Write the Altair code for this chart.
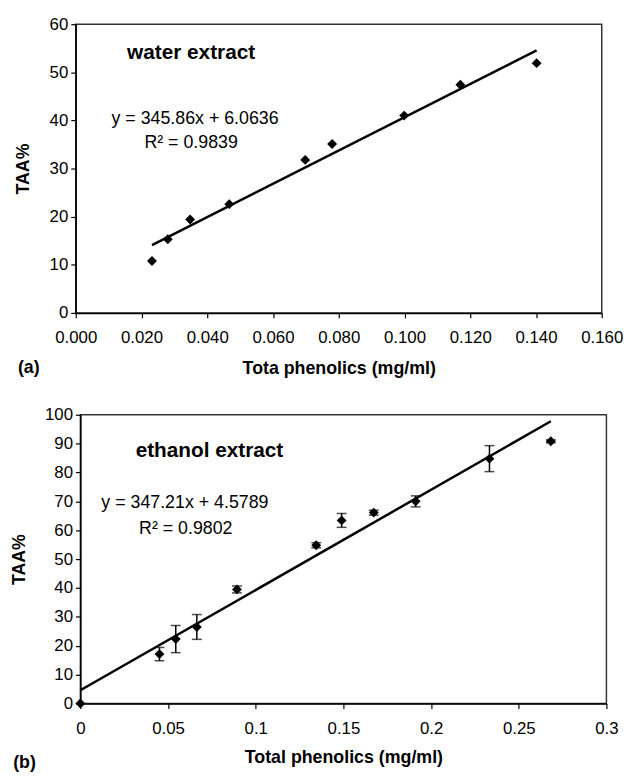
import altair as alt
import pandas as pd
import numpy as np

FONT = "Liberation Sans, Arial, Helvetica, sans-serif"

# ---------- (a) water extract ----------
water_x = [0.0232, 0.0280, 0.0348, 0.0467, 0.0698, 0.0780, 0.0999, 0.1170, 0.1402]
water_y = [10.8, 15.3, 19.4, 22.6, 31.8, 35.1, 41.0, 47.4, 51.9]
water_slope, water_icpt = 345.86, 6.0636
water_fit_x = [0.0232, 0.1402]
water_xticks = [0.0, 0.02, 0.04, 0.06, 0.08, 0.10, 0.12, 0.14, 0.16]
water_yticks = [0, 10, 20, 30, 40, 50, 60]
water_notes = ["water extract", "y = 345.86x + 6.0636", "R\u00b2 = 0.9839"]
water_note_x = [0.0351, 0.0363, 0.0351]
water_note_y = [52.7, 39.2, 34.35]

# ---------- (b) ethanol extract ----------
eth_x = [0.0, 0.0451, 0.0544, 0.0664, 0.0893, 0.1345, 0.1490, 0.1673, 0.1912, 0.2333, 0.2683]
eth_y = [0.0, 17.1, 22.3, 26.5, 39.5, 54.8, 63.4, 66.1, 70.0, 84.8, 90.8]
eth_err = [0.0, 2.3, 4.7, 4.3, 1.2, 0.9, 2.4, 0.85, 1.9, 4.5, 0.5]
eth_slope, eth_icpt = 347.21, 4.5789
eth_fit_x = [0.0, 0.2683]
eth_xticks = [0.0, 0.05, 0.10, 0.15, 0.20, 0.25, 0.30]
eth_yticks = [0, 10, 20, 30, 40, 50, 60, 70, 80, 90, 100]
eth_notes = ["ethanol extract", "y = 347.21x + 4.5789", "R\u00b2 = 0.9802"]
eth_note_x = [0.0736, 0.0596, 0.0601]
eth_note_y = [85.4, 67.8, 58.8]

BLACK = "#000000"


def panel(xs, ys, errs, fit_x, slope, icpt, xticks, yticks, xfmt, xtitle,
          notes, nx, ny, tag, tag_x, tag_y, w, h, x_tp):
    xdom = [xticks[0], xticks[-1]]
    ydom = [yticks[0], yticks[-1]]
    xsc = alt.Scale(domain=xdom, nice=False, zero=False)
    ysc = alt.Scale(domain=ydom, nice=False, zero=False)
    xax = alt.Axis(values=xticks, format=xfmt, title=xtitle, labelFlush=False,
                   labelPadding=12, titlePadding=x_tp, grid=False)
    yax = alt.Axis(values=yticks, title="TAA%", grid=False, titlePadding=16.5,
                   labelPadding=3)

    pts = pd.DataFrame({"x": xs, "y": ys})
    X = alt.X("x:Q", scale=xsc, axis=xax)
    Y = alt.Y("y:Q", scale=ysc, axis=yax)

    fx = np.array(fit_x)
    fit = pd.DataFrame({"x": fx, "y": slope * fx + icpt})
    line = alt.Chart(fit).mark_line(color=BLACK, strokeWidth=2.5).encode(x=X, y=Y)

    layers = [line]
    if errs is not None:
        ed = pd.DataFrame({"x": xs, "lo": [a - b for a, b in zip(ys, errs)],
                           "hi": [a + b for a, b in zip(ys, errs)], "e": errs})
        ed = ed[ed["e"] > 0]
        eb = alt.Chart(ed).mark_errorbar(ticks={"size": 10, "color": BLACK},
                                         color=BLACK, thickness=1.5).encode(
            x=alt.X("x:Q", scale=xsc, axis=xax),
            y=alt.Y("lo:Q", scale=ysc, axis=yax),
            y2="hi:Q")
        layers.append(eb)

    dots = alt.Chart(pts).mark_point(shape="diamond", filled=True, color=BLACK,
                                     size=100, opacity=1).encode(x=X, y=Y)
    layers.append(dots)

    nd = pd.DataFrame({"x": nx, "y": ny, "t": notes})
    head = alt.Chart(nd.iloc[[0]]).mark_text(font=FONT, fontSize=21, fontWeight="bold",
                                             color=BLACK, baseline="alphabetic").encode(
        x=X, y=Y, text="t:N")
    eq = alt.Chart(nd.iloc[1:]).mark_text(font=FONT, fontSize=18, color=BLACK,
                                          baseline="alphabetic").encode(
        x=X, y=Y, text="t:N")
    tg = alt.Chart(pd.DataFrame({"t": [tag]})).mark_text(
        font=FONT, fontSize=18, fontWeight="bold", color=BLACK, align="left",
        baseline="middle").encode(x=alt.value(tag_x), y=alt.value(tag_y), text="t:N")
    layers += [head, eq, tg]
    return alt.layer(*layers).properties(width=w, height=h)


top = panel(water_x, water_y, None, water_fit_x, water_slope, water_icpt,
            water_xticks, water_yticks, ".3f", "Tota phenolics (mg/ml)",
            water_notes, water_note_x, water_note_y, "(a)", -58.5, 348, 532, 292, 14)
bot = panel(eth_x, eth_y, eth_err, eth_fit_x, eth_slope, eth_icpt,
            eth_xticks, eth_yticks, ".2~f", "Total phenolics (mg/ml)",
            eth_notes, eth_note_x, eth_note_y, "(b)", -68, 352, 532, 292, 13)

chart = alt.vconcat(top, bot, center=True, spacing=27).properties(
    padding={"left": 1, "top": 2, "right": 0, "bottom": 0},
    background="white",
).configure_view(stroke="#333333", strokeWidth=1.5).configure_axis(
    labelFont=FONT, labelFontSize=17, labelColor=BLACK,
    titleFont=FONT, titleFontSize=18, titleFontWeight="bold", titleColor=BLACK,
    domainColor=BLACK, domainWidth=1.5, tickColor=BLACK, tickSize=5, tickWidth=1.2,
)

chart.save("out.html", embed_options={"renderer": "svg", "actions": False})
